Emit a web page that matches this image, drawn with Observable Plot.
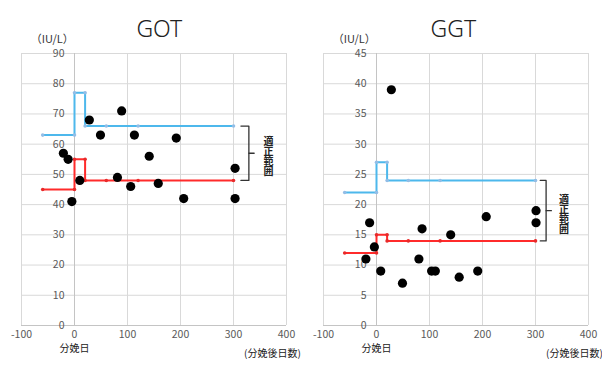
<!DOCTYPE html>
<html>
<head>
<meta charset="utf-8">
<script src="https://cdn.jsdelivr.net/npm/d3@7"></script>
<script src="https://cdn.jsdelivr.net/npm/@observablehq/plot@0.6"></script>
<style>
  html, body { margin: 0; padding: 0; background: #fff; overflow: hidden; }
  #charts { display: flex; width: 602px; height: 365px; }
  #charts svg { overflow: visible; background: transparent; flex: none; }
</style>
</head>
<body>
<div id="charts"></div>
<script>
// Axis ticks
const xTicks = [-100, 0, 100, 200, 300, 400];
const gotTicks = [0, 10, 20, 30, 40, 50, 60, 70, 80, 90];
const ggtTicks = [0, 5, 10, 15, 20, 25, 30, 35, 40, 45];

// Measured values (day relative to calving, IU/L)
const gotDays   = [-21, -12, -5, 10, 28, 49, 81, 89, 106, 113, 141, 158, 192, 206, 303, 303];
const gotValues = [57, 55, 41, 48, 68, 63, 49, 71, 46, 63, 56, 47, 62, 42, 52, 42];
const ggtDays   = [-20, -13, -4, 8, 28, 49, 80, 86, 104, 111, 140, 156, 191, 207, 301, 301];
const ggtValues = [11, 17, 13, 9, 39, 7, 11, 16, 9, 9, 15, 8, 9, 18, 19, 17];

// Reference range (upper / lower limits by period)
const rangeDays = [-60, 0, 0, 20, 20, 60, 120, 300];
const gotUpper  = [63, 63, 77, 77, 66, 66, 66, 66];
const gotLower  = [45, 45, 55, 55, 48, 48, 48, 48];
const ggtUpper  = [22, 22, 27, 27, 24, 24, 24, 24];
const ggtLower  = [12, 12, 15, 15, 14, 14, 14, 14];

// Text
const unitLabel = "（IU/L）";
const calvingLabel = "分娩日";
const daysLabel = "(分娩後日数)";
const rangeLabel = "適正範囲";

const tickColor = "#595959";
const gridColor = "#d9d9d9";
const axisColor = "#c4c4c4";
const upperColor = "#4db8ec";
const upperDot = "#93bde6";
const lowerColor = "#ff2b2b";
const lowerDot = "#e82a2a";

function chart(o) {
  const points = o.days.map((d, i) => ({day: d, value: o.values[i]}));
  const up = rangeDays.map((d, i) => ({day: d, value: o.upper[i]}));
  const lo = rangeDays.map((d, i) => ({day: d, value: o.lower[i]}));
  const hi = o.upper[o.upper.length - 1];
  const low = o.lower[o.lower.length - 1];
  const mid = (hi + low) / 2;
  const [b0, b1, b2] = o.bracket;
  const bracket = [
    {day: b0, value: hi}, {day: b1, value: hi},
    {day: b1, value: low}, {day: b0, value: low}
  ];
  const bracketTick = [{day: b1, value: mid}, {day: b2, value: mid}];

  const svg = Plot.plot({
    width: 301,
    height: 365,
    marginLeft: o.marginLeft,
    marginRight: o.marginRight,
    marginTop: 53,
    marginBottom: 40,
    x: {domain: [-100, 400], axis: null},
    y: {domain: [0, o.yTicks[o.yTicks.length - 1]], axis: null},
    style: {fontFamily: "'Noto Sans CJK JP', 'Noto Sans', sans-serif", background: "transparent"},
    marks: [
      // grid
      Plot.ruleY(o.yTicks, {y: d => d, stroke: gridColor, strokeWidth: 1}),
      Plot.ruleX(xTicks, {x: d => d, stroke: gridColor, strokeWidth: 1}),
      // axis lines crossing at day 0 / value 0
      Plot.ruleX([0], {x: d => d, stroke: axisColor, strokeWidth: 1}),
      Plot.ruleY([0], {y: d => d, stroke: axisColor, strokeWidth: 1}),
      // y tick labels beside the day-0 axis
      Plot.text(o.yTicks, {x: 0, y: d => d, text: d => String(d), dx: -10, textAnchor: "end",
        fill: tickColor, fontSize: 10.5}),
      // x tick labels
      Plot.text(xTicks, {x: d => d, frameAnchor: "bottom", text: d => String(d), dy: 12,
        fill: tickColor, fontSize: 10.5}),
      // reference range
      Plot.line(up, {x: "day", y: "value", stroke: upperColor, strokeWidth: 2}),
      Plot.dot(up, {x: "day", y: "value", r: 1.8, fill: upperDot}),
      Plot.line(lo, {x: "day", y: "value", stroke: lowerColor, strokeWidth: 2}),
      Plot.dot(lo, {x: "day", y: "value", r: 1.8, fill: lowerDot}),
      // measurements
      Plot.dot(points, {x: "day", y: "value", r: 4.6, fill: "#000"}),
      // bracket marking the reference range
      Plot.line(bracket, {x: "day", y: "value", stroke: "#333", strokeWidth: 1.3}),
      Plot.line(bracketTick, {x: "day", y: "value", stroke: "#333", strokeWidth: 1.3}),
      Plot.text([rangeLabel], {x: o.labelX, y: mid, text: d => d,
        fontSize: 10, fontWeight: "bold", fill: "#222"}),
      // titles and labels
      Plot.text([o.title], {x: o.titleX, frameAnchor: "top", text: d => d, dy: -33,
        fontSize: 23, fontWeight: 300, fill: "#222",
        fontFamily: "'Noto Sans', 'DejaVu Sans', sans-serif"}),
      Plot.text([unitLabel], {x: -42, frameAnchor: "top", text: d => d, dy: -18,
        fontSize: 11, fill: "#333"}),
      Plot.text([calvingLabel], {x: 0, frameAnchor: "bottom", text: d => d, dy: 26,
        fontSize: 10, fill: "#222"}),
      Plot.text([daysLabel], {x: 320, frameAnchor: "bottom", text: d => d, dy: 31,
        textAnchor: "start", fontSize: 10, fill: "#222"})
    ]
  });

  // set the range label in vertical writing (upright characters, top to bottom)
  svg.querySelectorAll("text").forEach(t => {
    if (t.textContent === rangeLabel) {
      t.setAttribute("writing-mode", "vertical-rl");
      t.style.writingMode = "vertical-rl";
      t.style.textOrientation = "upright";
      t.removeAttribute("dy");
    }
  });
  return svg;
}

const root = document.getElementById("charts");
root.append(chart({
  title: "GOT", days: gotDays, values: gotValues, upper: gotUpper, lower: gotLower,
  yTicks: gotTicks, titleX: 160, bracket: [314, 329, 339], labelX: 366,
  marginLeft: 21, marginRight: 15
}));
root.append(chart({
  title: "GGT", days: ggtDays, values: ggtValues, upper: ggtUpper, lower: ggtLower,
  yTicks: ggtTicks, titleX: 145, bracket: [309, 320, 330], labelX: 354,
  marginLeft: 22, marginRight: 14
}));
</script>
</body>
</html>
